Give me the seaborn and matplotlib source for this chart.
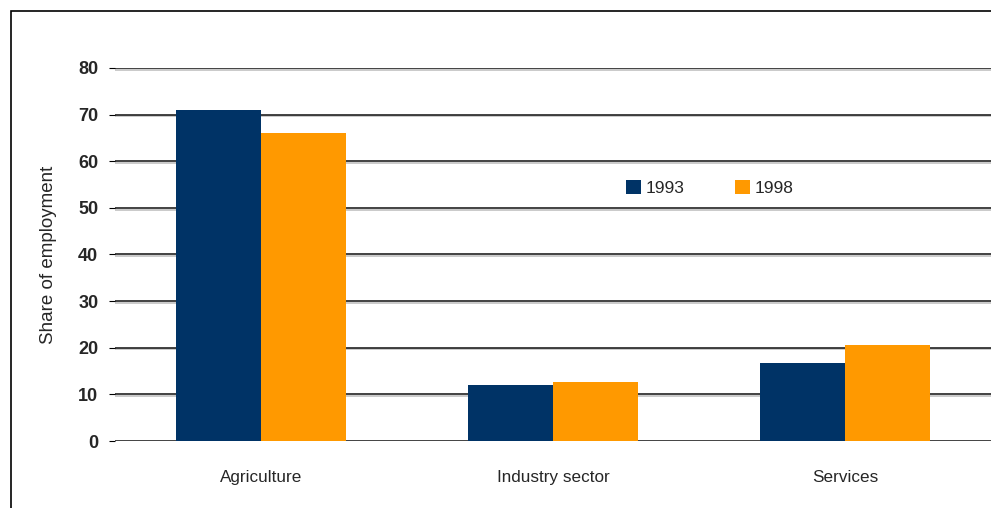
import matplotlib
matplotlib.use("Agg")
import matplotlib.pyplot as plt
import matplotlib.patheffects as pe
from matplotlib.patches import Rectangle
import seaborn as sns
import pandas as pd

sectors = ["Agriculture", "Industry sector", "Services"]
years = ["1993", "1998"]
share_1993 = [71.0, 12.0, 16.8]
share_1998 = [66.0, 12.7, 20.6]
y_ticks = [0, 10, 20, 30, 40, 50, 60, 70, 80]

df = pd.DataFrame({
    "sector": sectors * 2,
    "year": [years[0]] * 3 + [years[1]] * 3,
    "share": share_1993 + share_1998,
})

sns.set_theme(style="white")
plt.rcParams["font.family"] = ["Liberation Sans", "DejaVu Sans"]

W, H = 991, 508
fig = plt.figure(figsize=(W / 100, H / 100), dpi=100)
ax = fig.add_axes([115 / W, 1 - 441 / H, (W - 115) / W, 373 / H])

# outer frame around the chart
fig.patches.append(Rectangle((11 / W, -0.05), 1.2, 1 - 11 / H + 0.05,
                             transform=fig.transFigure, fill=False,
                             edgecolor="black", linewidth=1.2))

sns.barplot(data=df, x="sector", y="share", hue="year", order=sectors,
            hue_order=years, palette=["#003366", "#FF9900"], width=0.58,
            saturation=1, ax=ax, zorder=3, edgecolor="none")

ax.set_ylim(0, 80)
ax.set_xlim(-0.5, 2.5)
ax.set_yticks(y_ticks)
ax.set_yticklabels([str(t) for t in y_ticks], fontsize=13, fontweight="bold")
ax.tick_params(axis="y", length=4, width=0.8, color="black", pad=8, left=True)
ax.tick_params(axis="x", length=0, pad=21, labelsize=12.3)
ax.yaxis.grid(True, color="#222222", linewidth=1.2, zorder=0)
for gl in ax.get_ygridlines():
    gl.set_path_effects([pe.SimpleLineShadow(offset=(0, -1.2), shadow_color="#999999", alpha=0.6),
                         pe.Normal()])
ax.set_axisbelow(True)
for s in ax.spines.values():
    s.set_visible(False)

ax.set_xlabel("")
ax.set_ylabel("Share of employment", fontsize=13.5, labelpad=15)

ax.legend(loc="center", bbox_to_anchor=(0.679, 0.678), ncol=2,
          frameon=False, fontsize=12.5, handlelength=0.86,
          handleheight=0.86, handletextpad=0.3, columnspacing=2.9)

fig.savefig("out.png", dpi=100, facecolor="white")
